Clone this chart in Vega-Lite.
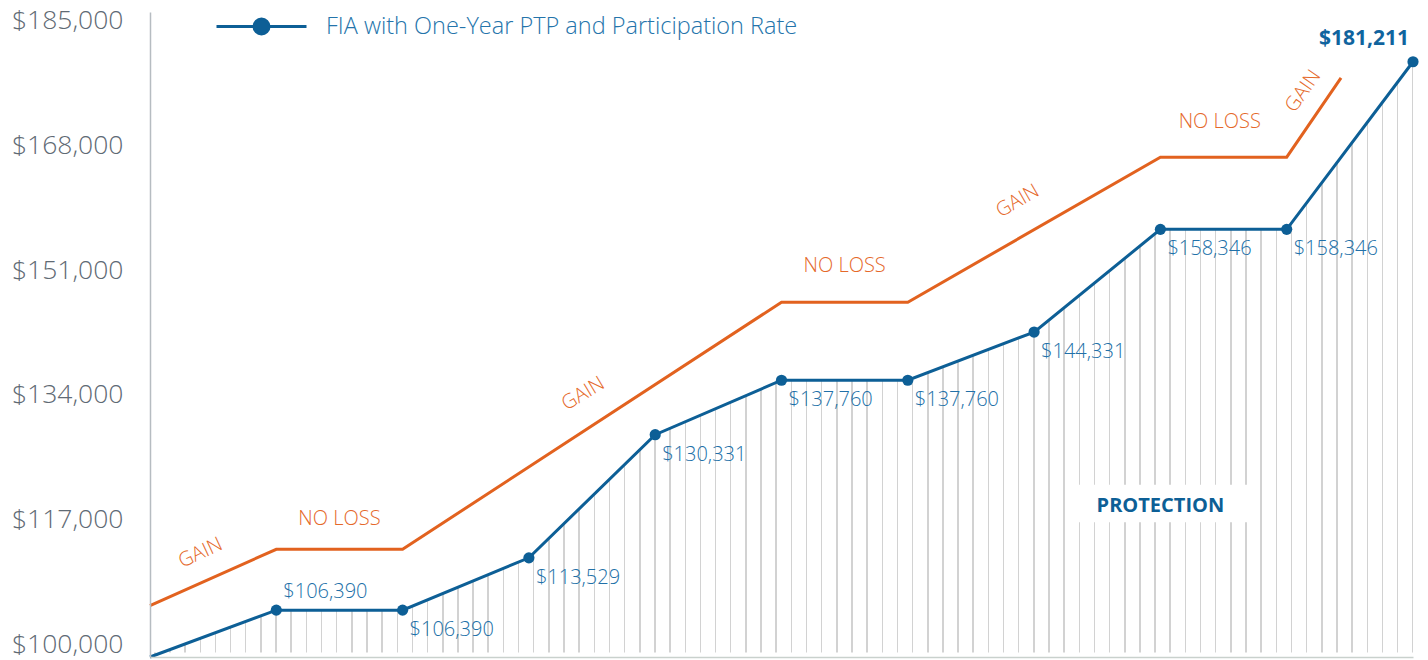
{
  "$schema": "https://vega.github.io/schema/vega-lite/v6.json",
  "width": 1263,
  "height": 645,
  "autosize": {"type": "none"},
  "padding": {"left": 150, "top": 12, "right": 15, "bottom": 3},
  "background": "white",
  "config": {"view": {"stroke": null}, "font": "Open Sans"},
  "datasets": {
    "fia": [
      {"year": 0, "value": 100000, "series": "FIA with One-Year PTP and Participation Rate"},
      {"year": 1, "value": 106390, "series": "FIA with One-Year PTP and Participation Rate"},
      {"year": 2, "value": 106390, "series": "FIA with One-Year PTP and Participation Rate"},
      {"year": 3, "value": 113529, "series": "FIA with One-Year PTP and Participation Rate"},
      {"year": 4, "value": 130331, "series": "FIA with One-Year PTP and Participation Rate"},
      {"year": 5, "value": 137760, "series": "FIA with One-Year PTP and Participation Rate"},
      {"year": 6, "value": 137760, "series": "FIA with One-Year PTP and Participation Rate"},
      {"year": 7, "value": 144331, "series": "FIA with One-Year PTP and Participation Rate"},
      {"year": 8, "value": 158346, "series": "FIA with One-Year PTP and Participation Rate"},
      {"year": 9, "value": 158346, "series": "FIA with One-Year PTP and Participation Rate"},
      {"year": 10, "value": 181211, "series": "FIA with One-Year PTP and Participation Rate"}
    ],
    "trend": [
      {"year": 0, "value": 107000},
      {"year": 1, "value": 114700},
      {"year": 2, "value": 114700},
      {"year": 5, "value": 148400},
      {"year": 6, "value": 148400},
      {"year": 8, "value": 168200},
      {"year": 9, "value": 168200},
      {"year": 9.43, "value": 179000}
    ],
    "notes": [
      {"note": "GAIN", "year": 0.4, "value": 114200},
      {"note": "NO LOSS", "year": 1.5, "value": 118800},
      {"note": "GAIN", "year": 3.43, "value": 135900},
      {"note": "NO LOSS", "year": 5.5, "value": 153300},
      {"note": "GAIN", "year": 6.87, "value": 162200},
      {"note": "NO LOSS", "year": 8.47, "value": 173000},
      {"note": "GAIN", "year": 9.13, "value": 177200},
      {"note": "PROTECTION", "year": 8.0, "value": 120600}
    ]
  },
  "layer": [
    {
      "data": {"name": "fia"},
      "mark": {
        "type": "area",
        "fill": {
          "gradient": "linear", "x1": 0, "y1": 0, "x2": 1, "y2": 0,
          "stops": [
{"offset":0.0032,"color":"#fff"},{"offset":0.0032,"color":"#d2d2d2"},{"offset":0.0044,"color":"#d2d2d2"},{"offset":0.0044,"color":"#fff"},
{"offset":0.0152,"color":"#fff"},{"offset":0.0152,"color":"#d2d2d2"},{"offset":0.0164,"color":"#d2d2d2"},{"offset":0.0164,"color":"#fff"},
{"offset":0.0272,"color":"#fff"},{"offset":0.0272,"color":"#d2d2d2"},{"offset":0.0284,"color":"#d2d2d2"},{"offset":0.0284,"color":"#fff"},
{"offset":0.0392,"color":"#fff"},{"offset":0.0392,"color":"#d2d2d2"},{"offset":0.0404,"color":"#d2d2d2"},{"offset":0.0404,"color":"#fff"},
{"offset":0.0512,"color":"#fff"},{"offset":0.0512,"color":"#d2d2d2"},{"offset":0.0524,"color":"#d2d2d2"},{"offset":0.0524,"color":"#fff"},
{"offset":0.0632,"color":"#fff"},{"offset":0.0632,"color":"#d2d2d2"},{"offset":0.0644,"color":"#d2d2d2"},{"offset":0.0644,"color":"#fff"},
{"offset":0.0752,"color":"#fff"},{"offset":0.0752,"color":"#d2d2d2"},{"offset":0.0764,"color":"#d2d2d2"},{"offset":0.0764,"color":"#fff"},
{"offset":0.0872,"color":"#fff"},{"offset":0.0872,"color":"#d2d2d2"},{"offset":0.0884,"color":"#d2d2d2"},{"offset":0.0884,"color":"#fff"},
{"offset":0.0992,"color":"#fff"},{"offset":0.0992,"color":"#d2d2d2"},{"offset":0.1004,"color":"#d2d2d2"},{"offset":0.1004,"color":"#fff"},
{"offset":0.1112,"color":"#fff"},{"offset":0.1112,"color":"#d2d2d2"},{"offset":0.1124,"color":"#d2d2d2"},{"offset":0.1124,"color":"#fff"},
{"offset":0.1232,"color":"#fff"},{"offset":0.1232,"color":"#d2d2d2"},{"offset":0.1244,"color":"#d2d2d2"},{"offset":0.1244,"color":"#fff"},
{"offset":0.1352,"color":"#fff"},{"offset":0.1352,"color":"#d2d2d2"},{"offset":0.1364,"color":"#d2d2d2"},{"offset":0.1364,"color":"#fff"},
{"offset":0.1472,"color":"#fff"},{"offset":0.1472,"color":"#d2d2d2"},{"offset":0.1484,"color":"#d2d2d2"},{"offset":0.1484,"color":"#fff"},
{"offset":0.1592,"color":"#fff"},{"offset":0.1592,"color":"#d2d2d2"},{"offset":0.1604,"color":"#d2d2d2"},{"offset":0.1604,"color":"#fff"},
{"offset":0.1712,"color":"#fff"},{"offset":0.1712,"color":"#d2d2d2"},{"offset":0.1724,"color":"#d2d2d2"},{"offset":0.1724,"color":"#fff"},
{"offset":0.1832,"color":"#fff"},{"offset":0.1832,"color":"#d2d2d2"},{"offset":0.1844,"color":"#d2d2d2"},{"offset":0.1844,"color":"#fff"},
{"offset":0.1952,"color":"#fff"},{"offset":0.1952,"color":"#d2d2d2"},{"offset":0.1964,"color":"#d2d2d2"},{"offset":0.1964,"color":"#fff"},
{"offset":0.2072,"color":"#fff"},{"offset":0.2072,"color":"#d2d2d2"},{"offset":0.2084,"color":"#d2d2d2"},{"offset":0.2084,"color":"#fff"},
{"offset":0.2192,"color":"#fff"},{"offset":0.2192,"color":"#d2d2d2"},{"offset":0.2204,"color":"#d2d2d2"},{"offset":0.2204,"color":"#fff"},
{"offset":0.2312,"color":"#fff"},{"offset":0.2312,"color":"#d2d2d2"},{"offset":0.2324,"color":"#d2d2d2"},{"offset":0.2324,"color":"#fff"},
{"offset":0.2432,"color":"#fff"},{"offset":0.2432,"color":"#d2d2d2"},{"offset":0.2444,"color":"#d2d2d2"},{"offset":0.2444,"color":"#fff"},
{"offset":0.2552,"color":"#fff"},{"offset":0.2552,"color":"#d2d2d2"},{"offset":0.2564,"color":"#d2d2d2"},{"offset":0.2564,"color":"#fff"},
{"offset":0.2672,"color":"#fff"},{"offset":0.2672,"color":"#d2d2d2"},{"offset":0.2684,"color":"#d2d2d2"},{"offset":0.2684,"color":"#fff"},
{"offset":0.2792,"color":"#fff"},{"offset":0.2792,"color":"#d2d2d2"},{"offset":0.2804,"color":"#d2d2d2"},{"offset":0.2804,"color":"#fff"},
{"offset":0.2912,"color":"#fff"},{"offset":0.2912,"color":"#d2d2d2"},{"offset":0.2924,"color":"#d2d2d2"},{"offset":0.2924,"color":"#fff"},
{"offset":0.3032,"color":"#fff"},{"offset":0.3032,"color":"#d2d2d2"},{"offset":0.3044,"color":"#d2d2d2"},{"offset":0.3044,"color":"#fff"},
{"offset":0.3152,"color":"#fff"},{"offset":0.3152,"color":"#d2d2d2"},{"offset":0.3164,"color":"#d2d2d2"},{"offset":0.3164,"color":"#fff"},
{"offset":0.3272,"color":"#fff"},{"offset":0.3272,"color":"#d2d2d2"},{"offset":0.3284,"color":"#d2d2d2"},{"offset":0.3284,"color":"#fff"},
{"offset":0.3392,"color":"#fff"},{"offset":0.3392,"color":"#d2d2d2"},{"offset":0.3404,"color":"#d2d2d2"},{"offset":0.3404,"color":"#fff"},
{"offset":0.3512,"color":"#fff"},{"offset":0.3512,"color":"#d2d2d2"},{"offset":0.3524,"color":"#d2d2d2"},{"offset":0.3524,"color":"#fff"},
{"offset":0.3632,"color":"#fff"},{"offset":0.3632,"color":"#d2d2d2"},{"offset":0.3644,"color":"#d2d2d2"},{"offset":0.3644,"color":"#fff"},
{"offset":0.3752,"color":"#fff"},{"offset":0.3752,"color":"#d2d2d2"},{"offset":0.3764,"color":"#d2d2d2"},{"offset":0.3764,"color":"#fff"},
{"offset":0.3872,"color":"#fff"},{"offset":0.3872,"color":"#d2d2d2"},{"offset":0.3884,"color":"#d2d2d2"},{"offset":0.3884,"color":"#fff"},
{"offset":0.3992,"color":"#fff"},{"offset":0.3992,"color":"#d2d2d2"},{"offset":0.4004,"color":"#d2d2d2"},{"offset":0.4004,"color":"#fff"},
{"offset":0.4112,"color":"#fff"},{"offset":0.4112,"color":"#d2d2d2"},{"offset":0.4124,"color":"#d2d2d2"},{"offset":0.4124,"color":"#fff"},
{"offset":0.4232,"color":"#fff"},{"offset":0.4232,"color":"#d2d2d2"},{"offset":0.4244,"color":"#d2d2d2"},{"offset":0.4244,"color":"#fff"},
{"offset":0.4352,"color":"#fff"},{"offset":0.4352,"color":"#d2d2d2"},{"offset":0.4364,"color":"#d2d2d2"},{"offset":0.4364,"color":"#fff"},
{"offset":0.4472,"color":"#fff"},{"offset":0.4472,"color":"#d2d2d2"},{"offset":0.4484,"color":"#d2d2d2"},{"offset":0.4484,"color":"#fff"},
{"offset":0.4592,"color":"#fff"},{"offset":0.4592,"color":"#d2d2d2"},{"offset":0.4604,"color":"#d2d2d2"},{"offset":0.4604,"color":"#fff"},
{"offset":0.4712,"color":"#fff"},{"offset":0.4712,"color":"#d2d2d2"},{"offset":0.4724,"color":"#d2d2d2"},{"offset":0.4724,"color":"#fff"},
{"offset":0.4832,"color":"#fff"},{"offset":0.4832,"color":"#d2d2d2"},{"offset":0.4844,"color":"#d2d2d2"},{"offset":0.4844,"color":"#fff"},
{"offset":0.4952,"color":"#fff"},{"offset":0.4952,"color":"#d2d2d2"},{"offset":0.4964,"color":"#d2d2d2"},{"offset":0.4964,"color":"#fff"},
{"offset":0.5072,"color":"#fff"},{"offset":0.5072,"color":"#d2d2d2"},{"offset":0.5084,"color":"#d2d2d2"},{"offset":0.5084,"color":"#fff"},
{"offset":0.5192,"color":"#fff"},{"offset":0.5192,"color":"#d2d2d2"},{"offset":0.5204,"color":"#d2d2d2"},{"offset":0.5204,"color":"#fff"},
{"offset":0.5312,"color":"#fff"},{"offset":0.5312,"color":"#d2d2d2"},{"offset":0.5324,"color":"#d2d2d2"},{"offset":0.5324,"color":"#fff"},
{"offset":0.5432,"color":"#fff"},{"offset":0.5432,"color":"#d2d2d2"},{"offset":0.5444,"color":"#d2d2d2"},{"offset":0.5444,"color":"#fff"},
{"offset":0.5552,"color":"#fff"},{"offset":0.5552,"color":"#d2d2d2"},{"offset":0.5564,"color":"#d2d2d2"},{"offset":0.5564,"color":"#fff"},
{"offset":0.5672,"color":"#fff"},{"offset":0.5672,"color":"#d2d2d2"},{"offset":0.5684,"color":"#d2d2d2"},{"offset":0.5684,"color":"#fff"},
{"offset":0.5792,"color":"#fff"},{"offset":0.5792,"color":"#d2d2d2"},{"offset":0.5804,"color":"#d2d2d2"},{"offset":0.5804,"color":"#fff"},
{"offset":0.5912,"color":"#fff"},{"offset":0.5912,"color":"#d2d2d2"},{"offset":0.5924,"color":"#d2d2d2"},{"offset":0.5924,"color":"#fff"},
{"offset":0.6032,"color":"#fff"},{"offset":0.6032,"color":"#d2d2d2"},{"offset":0.6044,"color":"#d2d2d2"},{"offset":0.6044,"color":"#fff"},
{"offset":0.6152,"color":"#fff"},{"offset":0.6152,"color":"#d2d2d2"},{"offset":0.6164,"color":"#d2d2d2"},{"offset":0.6164,"color":"#fff"},
{"offset":0.6272,"color":"#fff"},{"offset":0.6272,"color":"#d2d2d2"},{"offset":0.6284,"color":"#d2d2d2"},{"offset":0.6284,"color":"#fff"},
{"offset":0.6392,"color":"#fff"},{"offset":0.6392,"color":"#d2d2d2"},{"offset":0.6404,"color":"#d2d2d2"},{"offset":0.6404,"color":"#fff"},
{"offset":0.6512,"color":"#fff"},{"offset":0.6512,"color":"#d2d2d2"},{"offset":0.6524,"color":"#d2d2d2"},{"offset":0.6524,"color":"#fff"},
{"offset":0.6632,"color":"#fff"},{"offset":0.6632,"color":"#d2d2d2"},{"offset":0.6644,"color":"#d2d2d2"},{"offset":0.6644,"color":"#fff"},
{"offset":0.6752,"color":"#fff"},{"offset":0.6752,"color":"#d2d2d2"},{"offset":0.6764,"color":"#d2d2d2"},{"offset":0.6764,"color":"#fff"},
{"offset":0.6872,"color":"#fff"},{"offset":0.6872,"color":"#d2d2d2"},{"offset":0.6884,"color":"#d2d2d2"},{"offset":0.6884,"color":"#fff"},
{"offset":0.6992,"color":"#fff"},{"offset":0.6992,"color":"#d2d2d2"},{"offset":0.7004,"color":"#d2d2d2"},{"offset":0.7004,"color":"#fff"},
{"offset":0.7112,"color":"#fff"},{"offset":0.7112,"color":"#d2d2d2"},{"offset":0.7124,"color":"#d2d2d2"},{"offset":0.7124,"color":"#fff"},
{"offset":0.7232,"color":"#fff"},{"offset":0.7232,"color":"#d2d2d2"},{"offset":0.7244,"color":"#d2d2d2"},{"offset":0.7244,"color":"#fff"},
{"offset":0.7352,"color":"#fff"},{"offset":0.7352,"color":"#d2d2d2"},{"offset":0.7364,"color":"#d2d2d2"},{"offset":0.7364,"color":"#fff"},
{"offset":0.7472,"color":"#fff"},{"offset":0.7472,"color":"#d2d2d2"},{"offset":0.7484,"color":"#d2d2d2"},{"offset":0.7484,"color":"#fff"},
{"offset":0.7592,"color":"#fff"},{"offset":0.7592,"color":"#d2d2d2"},{"offset":0.7604,"color":"#d2d2d2"},{"offset":0.7604,"color":"#fff"},
{"offset":0.7712,"color":"#fff"},{"offset":0.7712,"color":"#d2d2d2"},{"offset":0.7724,"color":"#d2d2d2"},{"offset":0.7724,"color":"#fff"},
{"offset":0.7832,"color":"#fff"},{"offset":0.7832,"color":"#d2d2d2"},{"offset":0.7844,"color":"#d2d2d2"},{"offset":0.7844,"color":"#fff"},
{"offset":0.7952,"color":"#fff"},{"offset":0.7952,"color":"#d2d2d2"},{"offset":0.7964,"color":"#d2d2d2"},{"offset":0.7964,"color":"#fff"},
{"offset":0.8072,"color":"#fff"},{"offset":0.8072,"color":"#d2d2d2"},{"offset":0.8084,"color":"#d2d2d2"},{"offset":0.8084,"color":"#fff"},
{"offset":0.8192,"color":"#fff"},{"offset":0.8192,"color":"#d2d2d2"},{"offset":0.8204,"color":"#d2d2d2"},{"offset":0.8204,"color":"#fff"},
{"offset":0.8312,"color":"#fff"},{"offset":0.8312,"color":"#d2d2d2"},{"offset":0.8324,"color":"#d2d2d2"},{"offset":0.8324,"color":"#fff"},
{"offset":0.8432,"color":"#fff"},{"offset":0.8432,"color":"#d2d2d2"},{"offset":0.8444,"color":"#d2d2d2"},{"offset":0.8444,"color":"#fff"},
{"offset":0.8552,"color":"#fff"},{"offset":0.8552,"color":"#d2d2d2"},{"offset":0.8564,"color":"#d2d2d2"},{"offset":0.8564,"color":"#fff"},
{"offset":0.8672,"color":"#fff"},{"offset":0.8672,"color":"#d2d2d2"},{"offset":0.8684,"color":"#d2d2d2"},{"offset":0.8684,"color":"#fff"},
{"offset":0.8792,"color":"#fff"},{"offset":0.8792,"color":"#d2d2d2"},{"offset":0.8804,"color":"#d2d2d2"},{"offset":0.8804,"color":"#fff"},
{"offset":0.8912,"color":"#fff"},{"offset":0.8912,"color":"#d2d2d2"},{"offset":0.8924,"color":"#d2d2d2"},{"offset":0.8924,"color":"#fff"},
{"offset":0.9032,"color":"#fff"},{"offset":0.9032,"color":"#d2d2d2"},{"offset":0.9044,"color":"#d2d2d2"},{"offset":0.9044,"color":"#fff"},
{"offset":0.9152,"color":"#fff"},{"offset":0.9152,"color":"#d2d2d2"},{"offset":0.9164,"color":"#d2d2d2"},{"offset":0.9164,"color":"#fff"},
{"offset":0.9272,"color":"#fff"},{"offset":0.9272,"color":"#d2d2d2"},{"offset":0.9284,"color":"#d2d2d2"},{"offset":0.9284,"color":"#fff"},
{"offset":0.9392,"color":"#fff"},{"offset":0.9392,"color":"#d2d2d2"},{"offset":0.9404,"color":"#d2d2d2"},{"offset":0.9404,"color":"#fff"},
{"offset":0.9512,"color":"#fff"},{"offset":0.9512,"color":"#d2d2d2"},{"offset":0.9524,"color":"#d2d2d2"},{"offset":0.9524,"color":"#fff"},
{"offset":0.9632,"color":"#fff"},{"offset":0.9632,"color":"#d2d2d2"},{"offset":0.9644,"color":"#d2d2d2"},{"offset":0.9644,"color":"#fff"},
{"offset":0.9752,"color":"#fff"},{"offset":0.9752,"color":"#d2d2d2"},{"offset":0.9764,"color":"#d2d2d2"},{"offset":0.9764,"color":"#fff"},
{"offset":0.9872,"color":"#fff"},{"offset":0.9872,"color":"#d2d2d2"},{"offset":0.9884,"color":"#d2d2d2"},{"offset":0.9884,"color":"#fff"},
{"offset":0.9992,"color":"#fff"},{"offset":0.9992,"color":"#d2d2d2"},{"offset":1,"color":"#d2d2d2"}
          ]
        }
      },
      "encoding": {
        "x": {"field": "year", "type": "quantitative", "scale": {"domain": [0, 10], "nice": false, "zero": false},
              "axis": {"labels": false, "ticks": false, "grid": false, "title": null, "domainColor": "#c9d1cd", "domainWidth": 1.5, "zindex": 1}},
        "y": {"field": "value", "type": "quantitative", "scale": {"domain": [100000, 188000], "nice": false, "zero": false},
              "axis": {"values": [100000, 117000, 134000, 151000, 168000, 185000], "format": "$,.0f", "title": null, "grid": false, "ticks": false,
                       "labelFont": "Open Sans", "labelFontSize": 26.5, "labelFontWeight": 300, "labelColor": "#5f6a74", "labelBaseline": "alphabetic",
                       "labelOffset": -5, "labelPadding": 27, "labelOverlap": false, "labelFlush": false, "domainColor": "#b6bcc1", "domainWidth": 1.5, "zindex": 1}},
        "y2": {"datum": 100600}
      }
    },
    {
      "data": {"name": "notes"},
      "transform": [{"filter": "datum.note == 'PROTECTION'"}],
      "mark": {"type": "rect", "color": "white"},
      "encoding": {
        "x": {"datum": 7.27, "type": "quantitative"},
        "x2": {"datum": 8.7},
        "y": {"datum": 118400, "type": "quantitative"},
        "y2": {"datum": 123500}
      }
    },
    {
      "data": {"name": "notes"},
      "transform": [{"filter": "datum.note == 'PROTECTION'"}],
      "mark": {"type": "text", "font": "Open Sans", "fontSize": 20, "fontWeight": "bold", "color": "#0d5f96", "align": "center", "baseline": "middle"},
      "encoding": {
        "x": {"field": "year", "type": "quantitative"},
        "y": {"field": "value", "type": "quantitative"},
        "text": {"field": "note"}
      }
    },
    {
      "data": {"name": "trend"},
      "mark": {"type": "line", "color": "#e2621f", "strokeWidth": 3},
      "encoding": {
        "x": {"field": "year", "type": "quantitative"},
        "y": {"field": "value", "type": "quantitative"}
      }
    },
    {
      "data": {"name": "notes"},
      "transform": [{"filter": "datum.note == 'NO LOSS'"}],
      "mark": {"type": "text", "font": "Open Sans", "fontSize": 20, "fontWeight": 300, "color": "#e5692a", "align": "center", "baseline": "middle"},
      "encoding": {
        "x": {"field": "year", "type": "quantitative"},
        "y": {"field": "value", "type": "quantitative"},
        "text": {"field": "note"}
      }
    },
    {
      "data": {"name": "notes"},
      "transform": [{"filter": "datum.note == 'GAIN' && datum.year < 1"}],
      "mark": {"type": "text", "font": "Open Sans", "fontSize": 20, "fontWeight": 300, "color": "#e5692a", "align": "center", "baseline": "middle", "angle": 335},
      "encoding": {
        "x": {"field": "year", "type": "quantitative"},
        "y": {"field": "value", "type": "quantitative"},
        "text": {"field": "note"}
      }
    },
    {
      "data": {"name": "notes"},
      "transform": [{"filter": "datum.note == 'GAIN' && datum.year > 3 && datum.year < 4"}],
      "mark": {"type": "text", "font": "Open Sans", "fontSize": 20, "fontWeight": 300, "color": "#e5692a", "align": "center", "baseline": "middle", "angle": 329},
      "encoding": {
        "x": {"field": "year", "type": "quantitative"},
        "y": {"field": "value", "type": "quantitative"},
        "text": {"field": "note"}
      }
    },
    {
      "data": {"name": "notes"},
      "transform": [{"filter": "datum.note == 'GAIN' && datum.year > 6 && datum.year < 7"}],
      "mark": {"type": "text", "font": "Open Sans", "fontSize": 20, "fontWeight": 300, "color": "#e5692a", "align": "center", "baseline": "middle", "angle": 330},
      "encoding": {
        "x": {"field": "year", "type": "quantitative"},
        "y": {"field": "value", "type": "quantitative"},
        "text": {"field": "note"}
      }
    },
    {
      "data": {"name": "notes"},
      "transform": [{"filter": "datum.note == 'GAIN' && datum.year > 9"}],
      "mark": {"type": "text", "font": "Open Sans", "fontSize": 20, "fontWeight": 300, "color": "#e5692a", "align": "center", "baseline": "middle", "angle": 305},
      "encoding": {
        "x": {"field": "year", "type": "quantitative"},
        "y": {"field": "value", "type": "quantitative"},
        "text": {"field": "note"}
      }
    },
    {
      "data": {"name": "fia"},
      "mark": {"type": "line", "strokeWidth": 3},
      "encoding": {
        "x": {"field": "year", "type": "quantitative"},
        "y": {"field": "value", "type": "quantitative"},
        "color": {
          "field": "series", "type": "nominal",
          "scale": {"range": ["#0d5f96"]},
          "legend": {
            "orient": "none", "legendX": 65, "legendY": -32, "title": null, "padding": 0,
            "symbolType": "M-1,0H1M-0.167,0A0.167,0.167 0 1,0 0.167,0A0.167,0.167 0 1,0 -0.167,0Z",
            "symbolSize": 8100, "symbolStrokeWidth": 3, "symbolFillColor": "#0d5f96", "symbolStrokeColor": "#0d5f96",
            "labelFont": "Open Sans", "labelFontSize": 23.5, "labelFontWeight": 300, "labelColor": "#2474ab",
            "labelOffset": 18, "labelLimit": 800,
            "encode": {"symbols": {"update": {"fill": {"value": "#0d5f96"}, "stroke": {"value": "#0d5f96"}, "strokeWidth": {"value": 3}, "opacity": {"value": 1}}}}
          }
        }
      }
    },
    {
      "data": {"name": "fia"},
      "transform": [{"filter": "datum.year > 0"}],
      "mark": {"type": "circle", "size": 125, "color": "#0d5f96", "opacity": 1},
      "encoding": {
        "x": {"field": "year", "type": "quantitative"},
        "y": {"field": "value", "type": "quantitative"}
      }
    },
    {
      "data": {"name": "fia"},
      "transform": [{"filter": "datum.year == 1"}],
      "mark": {"type": "text", "font": "Open Sans", "fontSize": 20, "fontWeight": 300, "color": "#2170a8", "align": "left", "baseline": "middle", "dx": 7, "dy": -18},
      "encoding": {
        "x": {"field": "year", "type": "quantitative"},
        "y": {"field": "value", "type": "quantitative"},
        "text": {"field": "value", "type": "quantitative", "format": "$,.0f"}
      }
    },
    {
      "data": {"name": "fia"},
      "transform": [{"filter": "datum.year >= 2 && datum.year <= 9"}],
      "mark": {"type": "text", "font": "Open Sans", "fontSize": 20, "fontWeight": 300, "color": "#2170a8", "align": "left", "baseline": "middle", "dx": 7, "dy": 20},
      "encoding": {
        "x": {"field": "year", "type": "quantitative"},
        "y": {"field": "value", "type": "quantitative"},
        "text": {"field": "value", "type": "quantitative", "format": "$,.0f"}
      }
    },
    {
      "data": {"name": "fia"},
      "transform": [{"filter": "datum.year == 10"}],
      "mark": {"type": "text", "font": "Open Sans", "fontSize": 21, "fontWeight": "bold", "color": "#10649e", "align": "right", "baseline": "middle", "dx": -4, "dy": -23},
      "encoding": {
        "x": {"field": "year", "type": "quantitative"},
        "y": {"field": "value", "type": "quantitative"},
        "text": {"field": "value", "type": "quantitative", "format": "$,.0f"}
      }
    }
  ]
}
